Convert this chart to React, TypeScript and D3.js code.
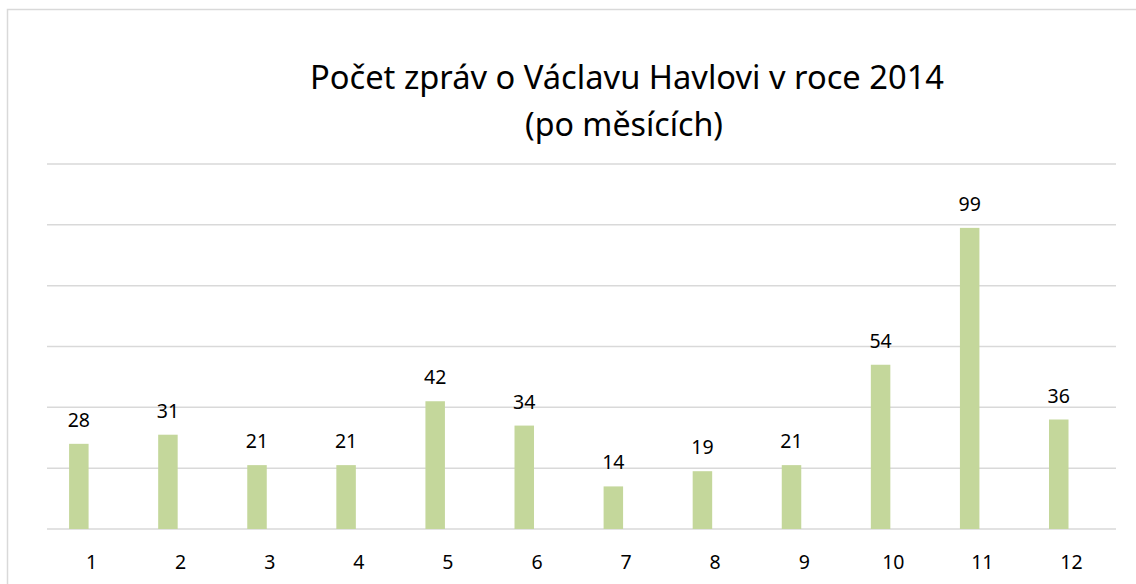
import React from "react";
import * as d3 from "d3";

const months: string[] = ["1", "2", "3", "4", "5", "6", "7", "8", "9", "10", "11", "12"];
const counts: number[] = [28, 31, 21, 21, 42, 34, 14, 19, 21, 54, 99, 36];
const yTicks: number[] = [0, 20, 40, 60, 80, 100, 120];
const titleLines: string[] = ["Počet zpráv o Václavu Havlovi v roce 2014", "(po měsících)"];

const W = 1136;
const H = 584;
const FONT = "'Noto Sans', 'Open Sans', sans-serif";

export default function App() {
  const x = d3.scaleBand<string>().domain(months).range([47, 1116]).padding(0);
  const y = d3.scaleLinear().domain([0, 120]).range([529, 164]);
  const barW = 19.5;
  const barOffset = 12.7;

  return (
    <svg
      width={W}
      height={H}
      style={{ position: "absolute", left: 0, top: 0, display: "block", background: "#fff" }}
    >
      <rect x={7.5} y={9.5} width={W + 20} height={H + 20} fill="#fff" stroke="#d9d9d9" strokeWidth={1.5} />
      <text
        x={627}
        y={88.5}
        textAnchor="middle"
        fontFamily={FONT}
        fontSize={32}
        fill="#000"
        textLength={634}
        lengthAdjust="spacingAndGlyphs"
      >
        {titleLines[0]}
      </text>
      <text
        x={624}
        y={136}
        textAnchor="middle"
        fontFamily={FONT}
        fontSize={32}
        fill="#000"
        textLength={198}
        lengthAdjust="spacingAndGlyphs"
      >
        {titleLines[1]}
      </text>
      {yTicks.map((t) => (
        <line key={t} x1={47} x2={1116} y1={y(t)} y2={y(t)} stroke="#d9d9d9" strokeWidth={1.5} />
      ))}
      {months.map((m, i) => {
        const cx = (x(m) as number) + x.bandwidth() / 2 - barOffset;
        return (
          <g key={m}>
            <rect x={cx - barW / 2} y={y(counts[i])} width={barW} height={y(0) - y(counts[i])} fill="#c4d79b" />
            <text x={cx} y={y(counts[i]) - 17} textAnchor="middle" fontFamily={FONT} fontSize={19.5} fill="#000">
              {counts[i]}
            </text>
          </g>
        );
      })}
      {months.map((m) => (
        <text
          key={"l" + m}
          x={(x(m) as number) + x.bandwidth() / 2}
          y={568.5}
          textAnchor="middle"
          fontFamily={FONT}
          fontSize={19.5}
          fill="#000"
        >
          {m}
        </text>
      ))}
    </svg>
  );
}
